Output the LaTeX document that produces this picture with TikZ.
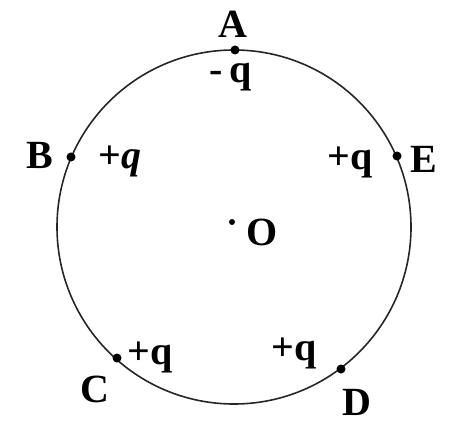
\documentclass[tikz,border=0pt]{standalone}
\usepackage{fontspec}
\setmainfont{Liberation Serif}
\begin{document}
\begin{tikzpicture}[x=1pt,y=-1pt,
  lbl/.style={inner sep=0pt,anchor=base,font=\fontsize{40}{44}\selectfont\bfseries},
  pt/.style={fill=black,circle,inner sep=0pt,minimum size=9pt}]
\useasboundingbox (0,0) rectangle (462,446);
\coordinate (ctr) at (234,227);
\draw[line width=1.6pt,black!85] (ctr) circle[radius=177pt];
\node[pt] (A) at (235,50) {};
\node[pt] (B) at (71,157) {};
\node[pt] (E) at (397,156) {};
\node[pt] (C) at (117,358) {};
\node[pt] (D) at (341,369) {};
\node[fill=black,circle,inner sep=0pt,minimum size=6pt] (O) at (232,222) {};
\node[lbl] (tA) at (233,38) {A};
\node[lbl] (qA) at (231,83) {-\,q};
\node[lbl] (tB) at (40,169) {B};
\node[lbl] (qB) at (120,169) {+\textit{q}};
\node[lbl] (qE) at (350,170) {+q};
\node[lbl] (tE) at (424,173) {E};
\node[lbl] (tC) at (95,402) {C};
\node[lbl] (qC) at (150,364) {+q};
\node[lbl] (qD) at (294,360) {+q};
\node[lbl] (tD) at (357,415) {D};
\node[lbl] (tO) at (262,245) {O};
\end{tikzpicture}
\end{document}
